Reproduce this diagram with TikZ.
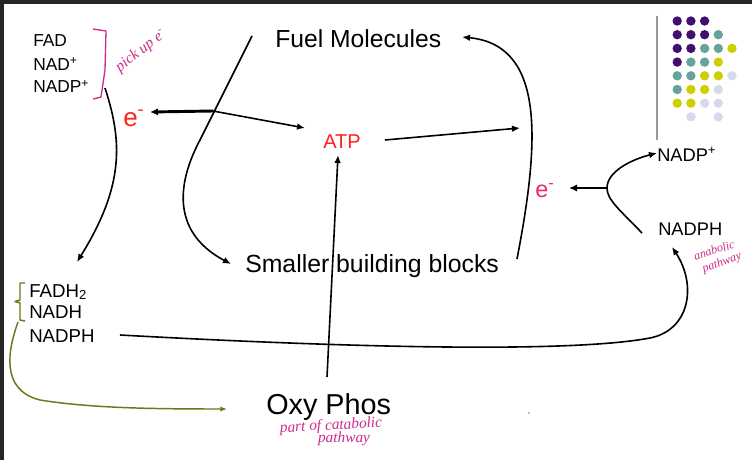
\documentclass[tikz,border=0pt]{standalone}
\usepackage{fontspec}
\setmainfont{Liberation Sans}
\newfontfamily\handfont{Liberation Serif}
\usetikzlibrary{arrows.meta}
\definecolor{pinkhand}{HTML}{D02A8C}
\definecolor{olivec}{HTML}{74741A}
\definecolor{redtxt}{HTML}{FF1F1F}
\definecolor{pinkred}{HTML}{F5246E}
\definecolor{dpurp}{HTML}{420F70}
\definecolor{dteal}{HTML}{66A29E}
\definecolor{dyel}{HTML}{CFCF00}
\definecolor{dlav}{HTML}{D9D9EE}
\begin{document}
\begin{tikzpicture}[x=0.75pt,y=-0.75pt,
  lbl/.style={inner sep=0pt, anchor=base west},
  conn/.style={line width=1.2pt, -{Latex[length=6pt,width=5pt]}},
  thickconn/.style={line width=2.2pt, -{Latex[length=6pt,width=5.5pt]}},
  oliveconn/.style={line width=1.1pt, olivec, -{Latex[length=5pt,width=4pt]}},
  hand/.style={inner sep=0pt, text=pinkhand, font=\handfont\itshape\fontsize{11.5}{12}\selectfont},
  dot/.style={radius=4.7}]
\useasboundingbox (0,0) rectangle (752,460);
\fill[white] (0,0) rectangle (752,460);
\fill[black!85] (0,0) rectangle (752,4);
\fill[black!85] (0,0) rectangle (4,460);

% main labels
\node[lbl, font=\fontsize{18.5}{22}\selectfont] (fuel) at (275,48) {Fuel Molecules};
\node[lbl, font=\fontsize{18.6}{22}\selectfont] (small) at (245,272) {Smaller building blocks};
\node[lbl, font=\fontsize{21.6}{26}\selectfont] (oxy) at (266,414) {Oxy Phos};
\node[lbl, font=\fontsize{15}{18}\selectfont, text=redtxt] (atp) at (323,148) {ATP};

\node[lbl, font=\fontsize{13}{15}\selectfont] (fad) at (33,47) {FAD};
\node[lbl, font=\fontsize{13}{15}\selectfont] (nad) at (33,70) {NAD\textsuperscript{+}};
\node[lbl, font=\fontsize{13}{15}\selectfont] (nadp) at (33,93) {NADP\textsuperscript{+}};

\node[lbl, font=\fontsize{19.5}{22}\selectfont, text=redtxt] (eL) at (123,126) {e\textsuperscript{-}};
\node[lbl, font=\fontsize{17.5}{20}\selectfont, text=pinkred] (eR) at (535,197) {e\textsuperscript{-}};

\node[lbl, font=\fontsize{13.7}{16}\selectfont] (nadpR) at (657,161) {NADP\textsuperscript{+}};
\node[lbl, font=\fontsize{13.7}{16}\selectfont] (nadphR) at (658,235) {NADPH};

\node[lbl, font=\fontsize{14}{16}\selectfont] (fadh) at (29,297) {FADH\textsubscript{2}};
\node[lbl, font=\fontsize{14}{16}\selectfont] (nadh) at (29,318) {NADH};
\node[lbl, font=\fontsize{14}{16}\selectfont] (nadphL) at (29,342) {NADPH};

% handwritten notes
\node[hand, font=\handfont\itshape\fontsize{11.5}{12}\selectfont, rotate=38] (pick) at (141,51) {pick up e\textsuperscript{-}};
\node[hand, font=\handfont\itshape\fontsize{9}{9}\selectfont, rotate=18] (anab) at (714,250) {anabolic};
\node[hand, font=\handfont\itshape\fontsize{9}{9}\selectfont, rotate=20] (anpath) at (722,263) {pathway};
\node[hand, rotate=3] (catab) at (331,426) {part of catabolic};
\node[hand] (catpath) at (344,439) {pathway};

% brackets
\draw[pinkhand, line width=1pt, line join=round] (93,29) -- (106,31) -- (105,70) -- (101,97) -- (93,99);
\draw[olivec, line width=1.1pt, line join=round] (25,283) -- (20,283) -- (20,300) -- (15,301.5) -- (20,303) -- (20,320) -- (25,321);

% coordinates
\coordinate (fuelOut) at (252,36);
\coordinate (fuelMid) at (200,140);
\coordinate (smallIn) at (231,264);
\coordinate (jL) at (213,111);
\coordinate (eLtip) at (150,112);
\coordinate (atpIn) at (305,128);
\coordinate (atpOut) at (385,140);
\coordinate (atpR) at (520,128);
\coordinate (oxyTop) at (327,377);
\coordinate (atpBot) at (338,155);
\coordinate (smallOut) at (517,259);
\coordinate (fuelIn) at (462,37);
\coordinate (nadphRout) at (642,233);
\coordinate (jR) at (607,188);
\coordinate (nadpRin) at (657,153);
\coordinate (eRtip) at (569,188);
\coordinate (nadpOut) at (105,88);
\coordinate (fadhIn) at (77,262);
\coordinate (nadphLout) at (120,335);
\coordinate (lowMid) at (650,338);
\coordinate (nadphRin) at (672,247);
\coordinate (bracOut) at (18,322);
\coordinate (oliveMid) at (40,400);
\coordinate (oxyIn) at (227,409);

% connectors
\draw[conn] (fuelOut) -- (fuelMid) .. controls (184,170) and (163,228) .. (smallIn);
\draw[thickconn] (jL) -- (eLtip);
\draw[conn] (jL) -- (atpIn);
\draw[conn] (atpOut) -- (atpR);
\draw[conn] (oxyTop) -- (atpBot);
\draw[conn] (smallOut) .. controls (540,140) and (545,45) .. (fuelIn);
\draw[conn] (nadphRout) .. controls (620,210) and (607,200) .. (jR) .. controls (607,172) and (630,160) .. (nadpRin);
\draw[thickconn] (jR) -- (eRtip);
\draw[conn] (nadpOut) .. controls (122,140) and (125,185) .. (fadhIn);
\draw[conn] (nadphLout) .. controls (300,345) and (560,355) .. (lowMid) .. controls (690,330) and (697,285) .. (nadphRin);
\draw[oliveconn] (bracOut) .. controls (8,350) and (0,390) .. (oliveMid) .. controls (90,408) and (150,409) .. (oxyIn);

% logo
\draw[black!40, line width=1.5pt] (657,16) -- (657,140);
\foreach \c/\r/\col in {1/1/dpurp,2/1/dpurp,3/1/dpurp,
  1/2/dpurp,2/2/dpurp,3/2/dpurp,4/2/dteal,
  1/3/dpurp,2/3/dpurp,3/3/dteal,4/3/dteal,5/3/dyel,
  1/4/dpurp,2/4/dteal,3/4/dteal,4/4/dyel,
  1/5/dteal,2/5/dteal,3/5/dyel,4/5/dyel,5/5/dlav,
  1/6/dteal,2/6/dyel,3/6/dyel,4/6/dlav,
  1/7/dyel,2/7/dyel,3/7/dlav,4/7/dlav,
  2/8/dlav,4/8/dlav}
  \fill[\col] ({663.5+13.7*\c},{7.3+13.7*\r}) circle[dot];
\fill[black!50] (529,413) circle[radius=0.8];
\end{tikzpicture}
\end{document}
